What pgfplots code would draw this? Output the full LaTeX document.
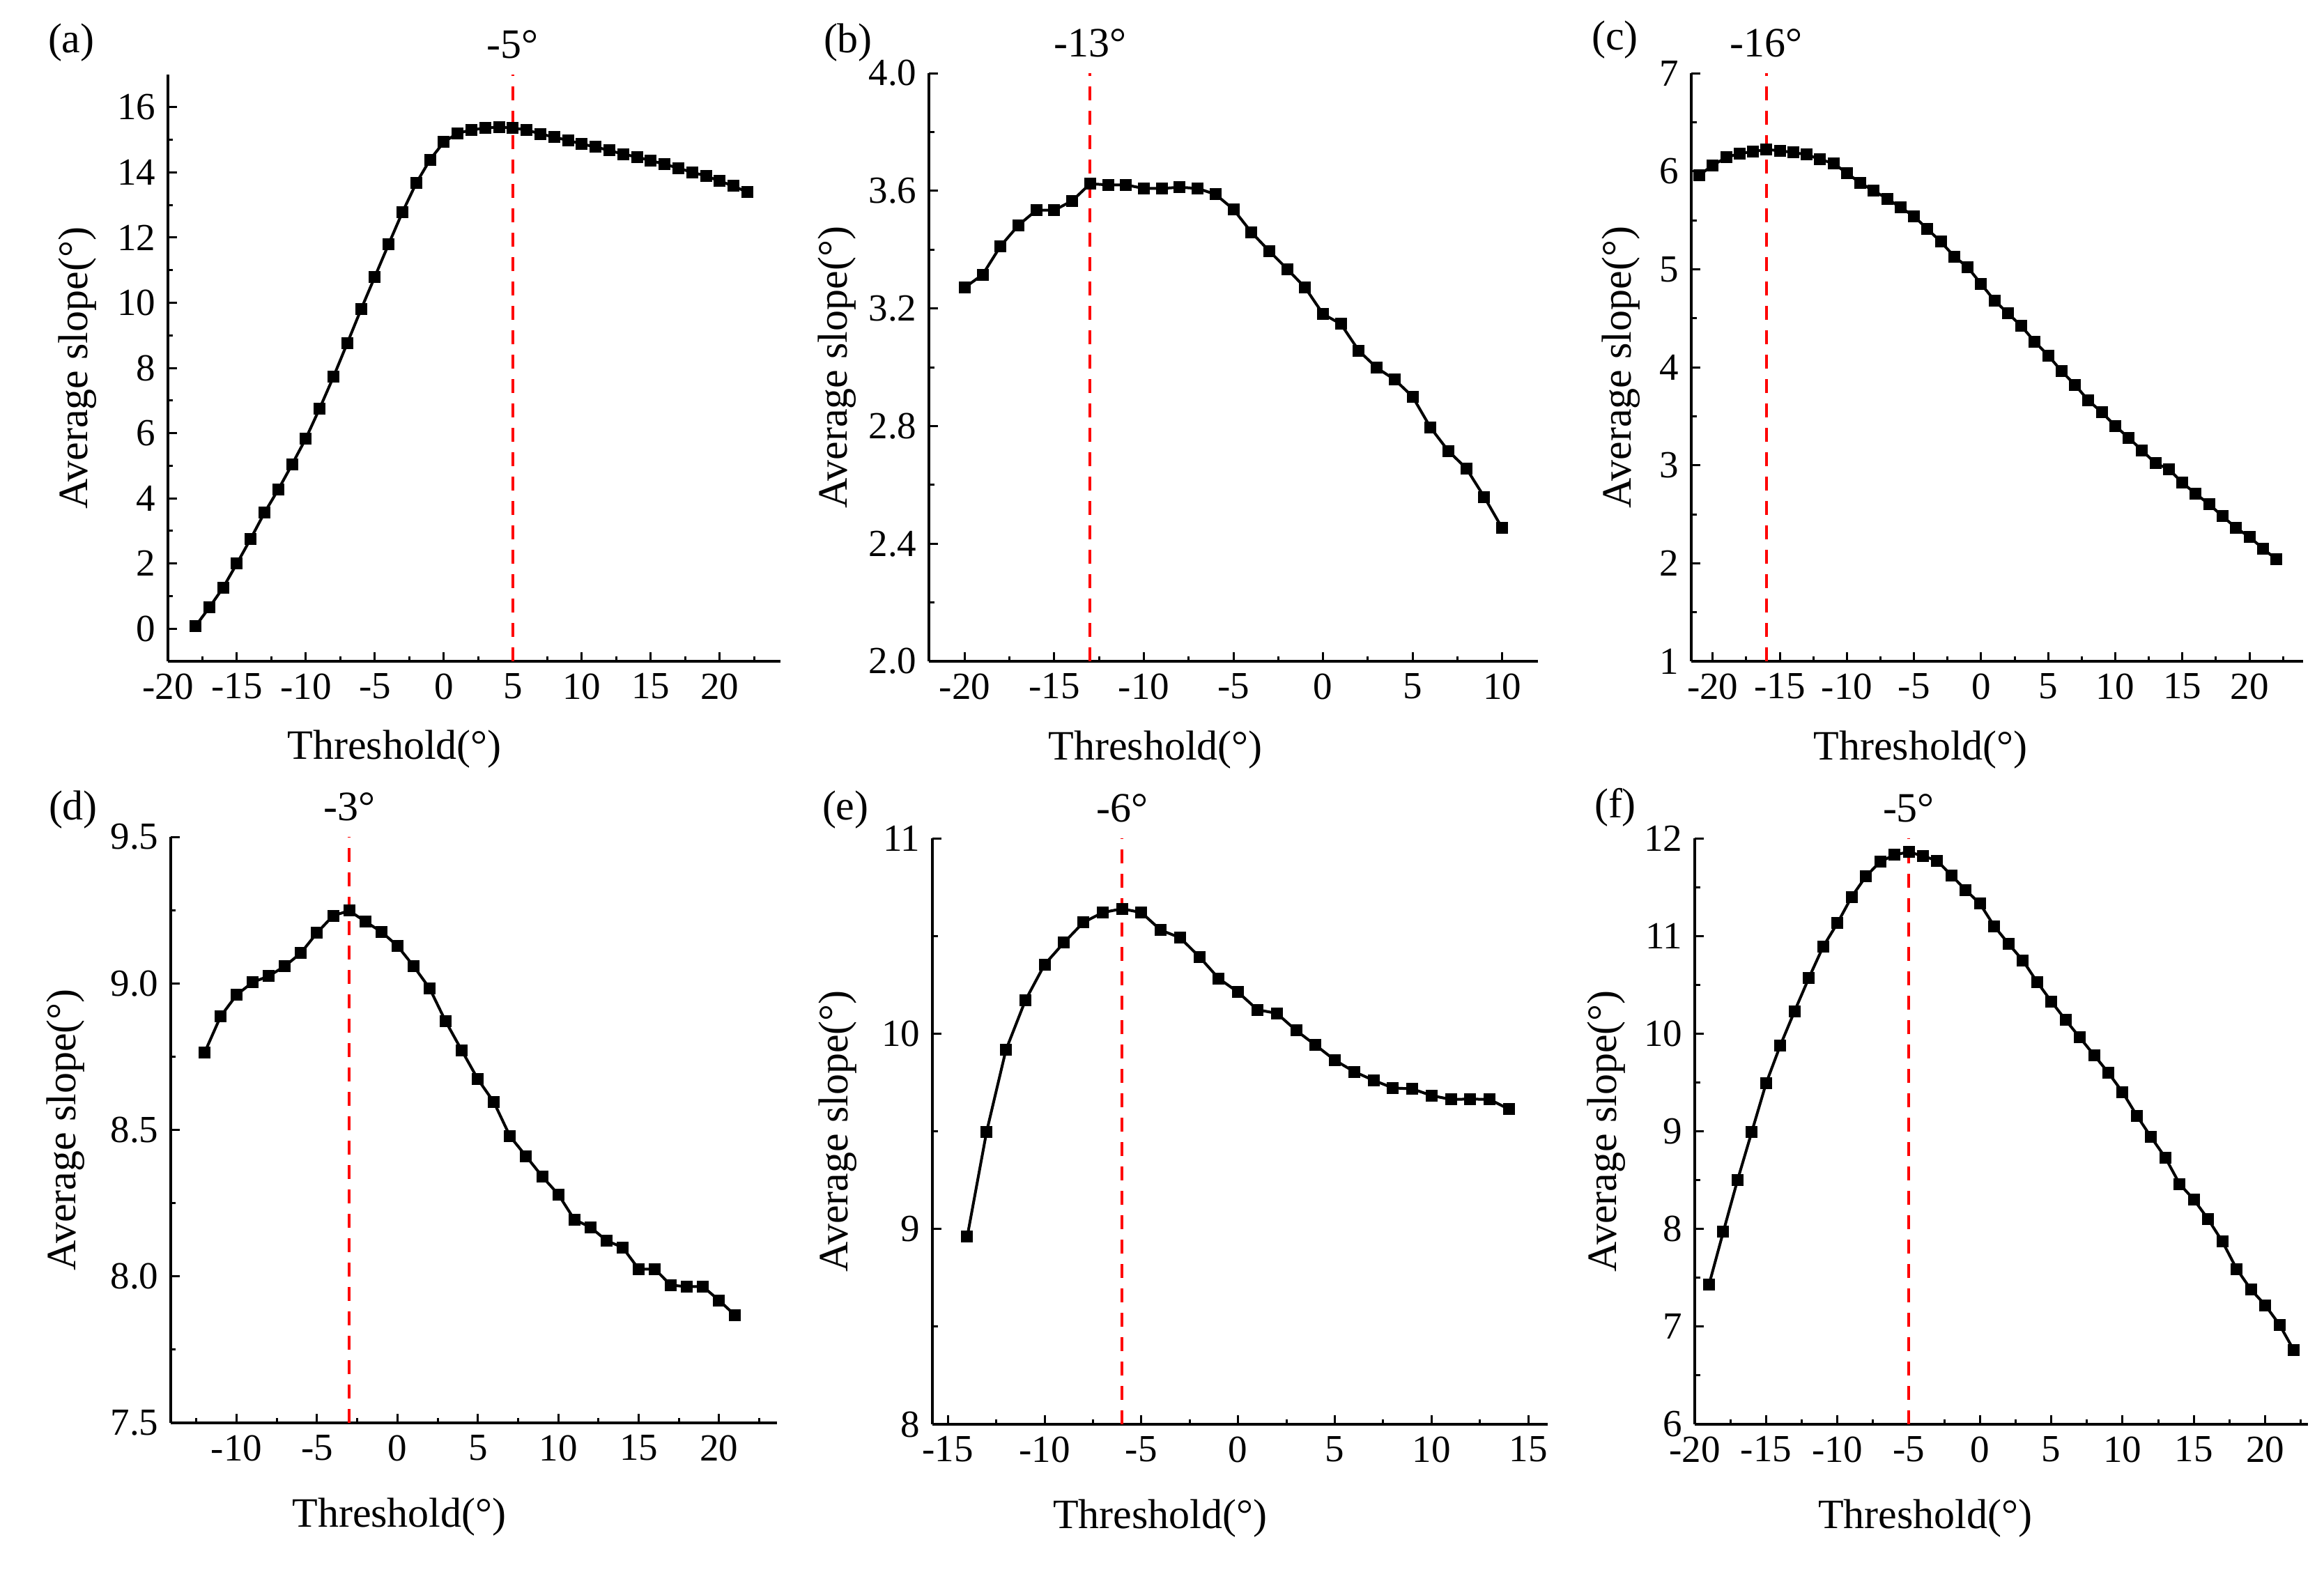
\documentclass[border=0pt]{standalone}
\usepackage{fontspec}
\setmainfont{Liberation Serif}
\usepackage{pgfplots}
\pgfplotsset{compat=1.18}

\pgfplotsset{
  panel/.style={
    scale only axis,
    anchor=south west,
    axis lines*=left,
    axis line style={line width=0.7pt, black},
    tick align=inside,
    tick style={line width=0.6pt, black},
    major tick length=2.6pt,
    minor tick length=1.5pt,
    clip=false,
    /pgf/number format/assume math mode=true,
    ticklabel style={font=\fontsize{11}{13}\selectfont},
    label style={font=\fontsize{12}{14}\selectfont},
    xlabel={Threshold(°)},
    ylabel={Average slope(°)},
  },
}
\tikzset{
  dat/.style={black, line width=0.8pt, mark=square*, mark size=1.3pt, mark options={solid}},
  vline/.style={red, line width=0.8pt, dash pattern=on 4pt off 3pt},
  ann/.style={anchor=base, inner sep=0pt, yshift=4.8pt, font=\fontsize{12}{14}\selectfont},
  lett/.style={anchor=west, inner sep=0pt, font=\fontsize{12}{14}\selectfont},
}

\begin{document}
\begin{tikzpicture}
\path (0,0) rectangle (667pt,451pt);

% ---------- (a)
\begin{axis}[panel, at={(48.2pt,261.2pt)}, width=175.8pt, height=168.4pt,
  xmin=-20, xmax=24.4, ymin=-1, ymax=17,
  xtick={-20,-15,...,20}, minor xtick={-17.5,-12.5,...,22.5},
  ytick={0,2,...,16}, minor ytick={1,3,...,15},
  xlabel style={at={(axis description cs:0.37,-0.15)}, anchor=center},
  ylabel style={at={(axis description cs:-0.148,0.5)}, anchor=center}]
\addplot[vline] coordinates {(5,-1) (5,17)};
\addplot[dat] coordinates {
(-18,0.08) (-17,0.65) (-16,1.26) (-15,2.0) (-14,2.76) (-13,3.56) (-12,4.27) (-11,5.04)
(-10,5.84) (-9,6.76) (-8,7.73) (-7,8.76) (-6,9.8) (-5,10.8) (-4,11.8) (-3,12.78)
(-2,13.67) (-1,14.39) (0,14.93) (1,15.2) (2,15.3) (3,15.36) (4,15.39) (5,15.36)
(6,15.3) (7,15.18) (8,15.08) (9,14.98) (10,14.87) (11,14.78) (12,14.67) (13,14.56)
(14,14.47) (15,14.36) (16,14.25) (17,14.13) (18,14.0) (19,13.89) (20,13.73) (21,13.58) (22,13.39)};
\node[ann] at (axis cs:5,17) {-5°};
\end{axis}

% ---------- (b)
\begin{axis}[panel, at={(266.6pt,261.2pt)}, width=174.8pt, height=168.8pt,
  xmin=-22, xmax=12, ymin=2, ymax=4,
  xtick={-20,-15,...,10}, minor xtick={-17.5,-12.5,...,7.5},
  ytick={2.0,2.4,...,4.0}, minor ytick={2.2,2.6,...,3.8},
  yticklabel style={/pgf/number format/.cd, fixed, fixed zerofill, precision=1},
  xlabel style={at={(axis description cs:0.372,-0.15)}, anchor=center},
  ylabel style={at={(axis description cs:-0.151,0.5)}, anchor=center}]
\addplot[vline] coordinates {(-13,2) (-13,4)};
\addplot[dat] coordinates {
(-20,3.271) (-19,3.315) (-18,3.412) (-17,3.483) (-16,3.534) (-15,3.534) (-14,3.566) (-13,3.624)
(-12,3.620) (-11,3.620) (-10,3.608) (-9,3.608) (-8,3.612) (-7,3.608) (-6,3.588) (-5,3.537)
(-4,3.459) (-3,3.395) (-2,3.334) (-1,3.271) (0,3.181) (1,3.147) (2,3.056) (3,2.998)
(4,2.958) (5,2.900) (6,2.795) (7,2.715) (8,2.656) (9,2.559) (10,2.453)};
\node[ann] at (axis cs:-13,4) {-13°};
\end{axis}

% ---------- (c)
\begin{axis}[panel, at={(485.4pt,261.2pt)}, width=175.6pt, height=168.8pt,
  xmin=-21.6, xmax=24, ymin=1, ymax=7,
  xtick={-20,-15,...,20}, minor xtick={-17.5,-12.5,...,22.5},
  ytick={1,2,...,7}, minor ytick={1.5,2.5,...,6.5},
  xlabel style={at={(axis description cs:0.375,-0.15)}, anchor=center},
  ylabel style={at={(axis description cs:-0.115,0.5)}, anchor=center}]
\addplot[vline] coordinates {(-16,1) (-16,7)};
\addplot[dat] coordinates {
(-21,5.96) (-20,6.06) (-19,6.14) (-18,6.18) (-17,6.20) (-16,6.22) (-15,6.21) (-14,6.19)
(-13,6.17) (-12,6.12) (-11,6.08) (-10,5.98) (-9,5.88) (-8,5.80) (-7,5.72) (-6,5.63)
(-5,5.54) (-4,5.41) (-3,5.28) (-2,5.13) (-1,5.02) (0,4.85) (1,4.68) (2,4.55)
(3,4.42) (4,4.26) (5,4.12) (6,3.96) (7,3.82) (8,3.66) (9,3.54) (10,3.40)
(11,3.28) (12,3.15) (13,3.02) (14,2.96) (15,2.82) (16,2.71) (17,2.60) (18,2.48)
(19,2.36) (20,2.27) (21,2.15) (22,2.04)};
\node[ann] at (axis cs:-16,7) {-16°};
\end{axis}

% ---------- (d)
\begin{axis}[panel, at={(49pt,42.6pt)}, width=174pt, height=168.2pt,
  xmin=-14.1, xmax=23.6, ymin=7.5, ymax=9.5,
  xtick={-10,-5,...,20}, minor xtick={-12.5,-7.5,...,22.5},
  ytick={7.5,8.0,...,9.5}, minor ytick={7.75,8.25,...,9.25},
  yticklabel style={/pgf/number format/.cd, fixed, fixed zerofill, precision=1},
  xlabel style={at={(axis description cs:0.377,-0.16)}, anchor=center},
  ylabel style={at={(axis description cs:-0.1736,0.5)}, anchor=center}]
\addplot[vline] coordinates {(-3,7.5) (-3,9.5)};
\addplot[dat] coordinates {
(-12,8.763) (-11,8.887) (-10,8.961) (-9,9.004) (-8,9.025) (-7,9.059) (-6,9.104) (-5,9.173)
(-4,9.231) (-3,9.248) (-2,9.211) (-1,9.176) (0,9.128) (1,9.059) (2,8.983) (3,8.870)
(4,8.771) (5,8.673) (6,8.594) (7,8.478) (8,8.410) (9,8.341) (10,8.280) (11,8.194)
(12,8.168) (13,8.122) (14,8.099) (15,8.025) (16,8.025) (17,7.970) (18,7.965) (19,7.965)
(20,7.918) (21,7.867)};
\node[ann] at (axis cs:-3,9.5) {-3°};
\end{axis}

% ---------- (e)
\begin{axis}[panel, at={(267.6pt,42.2pt)}, width=176.6pt, height=168.2pt,
  xmin=-15.8, xmax=16, ymin=8, ymax=11,
  xtick={-15,-10,...,15}, minor xtick={-12.5,-7.5,...,12.5},
  ytick={8,9,10,11}, minor ytick={8.5,9.5,10.5},
  xlabel style={at={(axis description cs:0.37,-0.16)}, anchor=center},
  ylabel style={at={(axis description cs:-0.154,0.5)}, anchor=center}]
\addplot[vline] coordinates {(-6,8) (-6,11)};
\addplot[dat] coordinates {
(-14,8.96) (-13,9.497) (-12,9.916) (-11,10.169) (-10,10.354) (-9,10.466) (-8,10.569) (-7,10.620)
(-6,10.639) (-5,10.620) (-4,10.530) (-3,10.491) (-2,10.393) (-1,10.282) (0,10.212) (1,10.122)
(2,10.104) (3,10.016) (4,9.941) (5,9.864) (6,9.805) (7,9.761) (8,9.722) (9,9.717)
(10,9.683) (11,9.663) (12,9.665) (13,9.663) (14,9.613)};
\node[ann] at (axis cs:-6,11) {-6°};
\end{axis}

% ---------- (f)
\begin{axis}[panel, at={(486.4pt,42.2pt)}, width=176pt, height=168.2pt,
  xmin=-20, xmax=23, ymin=6, ymax=12,
  xtick={-20,-15,...,20}, minor xtick={-17.5,-12.5,...,22.5},
  ytick={6,7,...,12}, minor ytick={6.5,7.5,...,11.5},
  xlabel style={at={(axis description cs:0.376,-0.16)}, anchor=center},
  ylabel style={at={(axis description cs:-0.144,0.5)}, anchor=center}]
\addplot[vline] coordinates {(-5,6) (-5,12)};
\addplot[dat] coordinates {
(-19,7.43) (-18,7.97) (-17,8.50) (-16,8.995) (-15,9.49) (-14,9.88) (-13,10.23) (-12,10.57)
(-11,10.89) (-10,11.13) (-9,11.40) (-8,11.61) (-7,11.76) (-6,11.83) (-5,11.86) (-4,11.82)
(-3,11.77) (-2,11.62) (-1,11.47) (0,11.33) (1,11.10) (2,10.92) (3,10.75) (4,10.53)
(5,10.33) (6,10.14) (7,9.96) (8,9.78) (9,9.60) (10,9.40) (11,9.16) (12,8.94)
(13,8.73) (14,8.46) (15,8.30) (16,8.10) (17,7.87) (18,7.59) (19,7.38) (20,7.22)
(21,7.02) (22,6.76)};
\node[ann] at (axis cs:-5,12) {-5°};
\end{axis}

% panel letters
\node[lett] at (13.6pt,438.8pt) {(a)};
\node[lett] at (236.2pt,438.8pt) {(b)};
\node[lett] at (456.6pt,439.6pt) {(c)};
\node[lett] at (13.8pt,218.6pt) {(d)};
\node[lett] at (235.8pt,218.6pt) {(e)};
\node[lett] at (457.4pt,219.2pt) {(f)};
\end{tikzpicture}
\end{document}
